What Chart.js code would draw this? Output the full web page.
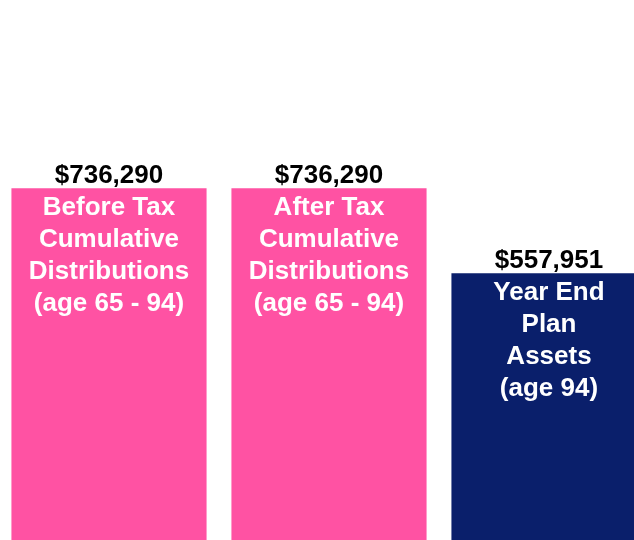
<!DOCTYPE html>
<html>
<head>
<meta charset="utf-8">
<script src="https://cdn.jsdelivr.net/npm/chart.js@4"></script>
<style>
  html, body { margin: 0; padding: 0; background: #fff; overflow: hidden; }
  #wrap { position: absolute; left: -1px; top: 0; width: 660px; height: 540px; }
</style>
</head>
<body>
<div id="wrap"><canvas id="chart"></canvas></div>
<script>
const categories = [
  ["Before Tax", "Cumulative", "Distributions", "(age 65 - 94)"],
  ["After Tax", "Cumulative", "Distributions", "(age 65 - 94)"],
  ["Year End", "Plan", "Assets", "(age 94)"],
];
const values = [736290, 736290, 557951];
const valueLabels = ["$736,290", "$736,290", "$557,951"];
const barColors = ["#FF52A3", "#FF52A3", "#0A1F6B"];

const FONT = "bold 26px 'Liberation Sans', Arial, sans-serif";

const barText = {
  id: "barText",
  afterDatasetsDraw(chart) {
    const ctx = chart.ctx;
    const meta = chart.getDatasetMeta(0);
    ctx.save();
    ctx.font = FONT;
    ctx.textAlign = "center";
    ctx.textBaseline = "alphabetic";
    meta.data.forEach((bar, i) => {
      ctx.fillStyle = "#000";
      ctx.fillText(valueLabels[i], bar.x, bar.y - 5);
      ctx.fillStyle = "#fff";
      categories[i].forEach((line, j) => {
        ctx.fillText(line, bar.x, bar.y + 27 + j * 32);
      });
    });
    ctx.restore();
  },
};

new Chart(document.getElementById("chart"), {
  type: "bar",
  data: {
    labels: categories,
    datasets: [
      {
        data: values,
        backgroundColor: barColors,
        borderWidth: 0,
        categoryPercentage: 1,
        barPercentage: 0.887,
      },
    ],
  },
  options: {
    responsive: true,
    maintainAspectRatio: false,
    animation: false,
    layout: { padding: 0 },
    plugins: {
      legend: { display: false },
      tooltip: { enabled: false },
    },
    scales: {
      x: { display: false },
      y: { display: false, min: 0, max: 1130000 },
    },
  },
  plugins: [barText],
});
</script>
</body>
</html>
